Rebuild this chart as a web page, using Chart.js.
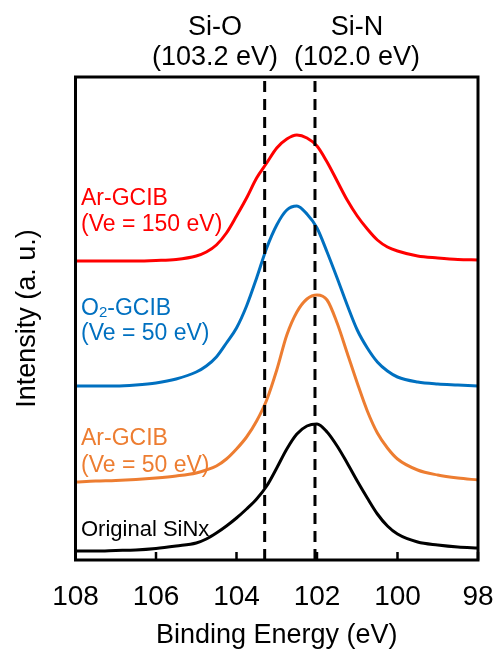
<!DOCTYPE html>
<html>
<head>
<meta charset="utf-8">
<script src="https://cdn.jsdelivr.net/npm/chart.js@4/dist/chart.umd.min.js"></script>
<style>
  html, body { margin: 0; padding: 0; background: #fff; }
  #wrap { width: 496px; height: 654px; position: relative; }
</style>
</head>
<body>
<div id="wrap"><canvas id="xps"></canvas></div>
<script>
// energias (eV) compartidas por las cuatro curvas
const energias = [108, 107.5, 107, 106.5, 106, 105.5, 105, 104.75, 104.5, 104.25, 104, 103.75, 103.5, 103.25,
  103, 102.75, 102.5, 102.25, 102, 101.75, 101.5, 101.25, 101, 100.75, 100.5, 100.25, 100, 99.5, 99, 98.5, 98];

// intensidades (u. a., con el desplazamiento vertical ya incluido)
const arGcib150 = [299, 299, 299, 299, 299.5, 300.5, 304, 308, 315, 327, 344, 362, 382, 397,
  412, 421, 425, 422, 414, 398, 379, 360, 344, 331, 320, 313, 309, 304, 302, 300.5, 300];
const o2Gcib50 = [174, 174, 174, 175, 177, 181, 188, 194, 203, 217, 232, 254, 282, 312,
  335, 350, 354, 346, 332, 308, 282, 255, 230, 212, 198, 189, 183, 178, 176, 175, 174];
const arGcib50 = [78, 79, 79.5, 80.5, 82, 84, 87, 90, 94, 101, 111, 123, 139, 160,
  190, 225, 248, 261, 265, 260, 237, 207, 177, 149, 127, 112, 101, 90, 85, 82, 80];
const originalSiNx = [9, 9, 9.5, 10, 11.5, 14, 17, 21, 27, 34, 42, 51, 61, 74,
  92, 111, 126, 134, 136, 128, 114, 97, 79, 62, 46, 34, 26, 18, 15, 13, 12];

// posiciones de las líneas de referencia
const lineaSiO = 103.3;
const lineaSiN = 102.05;
const yMin = 0;
const yMax = 483;

const xTicks = [108, 106, 104, 102, 100, 98];

function serie(valores) {
  return valores.map((v, i) => ({ x: energias[i], y: v }));
}

function vertical(x) {
  return [{ x: x, y: yMin }, { x: x, y: yMax }];
}

const FUENTE = "'Liberation Sans', Arial, Helvetica, sans-serif";
Chart.defaults.font.family = FUENTE;
Chart.defaults.color = '#000';

const rotulos = {
  id: 'rotulos',
  afterDraw(chart) {
    const { ctx, chartArea: a, scales } = chart;
    ctx.save();

    // marco
    ctx.strokeStyle = '#000';
    ctx.lineWidth = 3;
    ctx.strokeRect(a.left, a.top, a.right - a.left, a.bottom - a.top);

    // marcas hacia dentro en el eje x
    ctx.lineWidth = 2.5;
    xTicks.forEach(v => {
      const px = scales.x.getPixelForValue(v);
      ctx.beginPath();
      ctx.moveTo(px, a.bottom);
      ctx.lineTo(px, a.bottom - 8);
      ctx.stroke();
    });

    // títulos de las líneas
    ctx.fillStyle = '#000';
    ctx.textAlign = 'center';
    ctx.textBaseline = 'alphabetic';
    ctx.font = '27px ' + FUENTE;
    ctx.fillText('Si-O', 215, 35);
    ctx.fillText('(103.2 eV)', 215, 65);
    ctx.fillText('Si-N', 357, 35);
    ctx.fillText('(102.0 eV)', 357, 65);

    // etiquetas de curvas
    ctx.textAlign = 'left';
    ctx.font = '23px ' + FUENTE;
    const x0 = 81;
    ctx.fillStyle = '#FF0000';
    ctx.fillText('Ar-GCIB', x0, 205);
    ctx.fillText('(Ve = 150 eV)', x0, 231);

    ctx.fillStyle = '#0070C0';
    ctx.fillText('O', x0, 315);
    let w = ctx.measureText('O').width;
    ctx.font = '15px ' + FUENTE;
    ctx.fillText('2', x0 + w, 317);
    w += ctx.measureText('2').width;
    ctx.font = '23px ' + FUENTE;
    ctx.fillText('-GCIB', x0 + w, 315);
    ctx.fillText('(Ve = 50 eV)', x0, 340);

    ctx.fillStyle = '#ED7D31';
    ctx.fillText('Ar-GCIB', x0, 445);
    ctx.fillText('(Ve = 50 eV)', x0, 472);

    ctx.fillStyle = '#000';
    ctx.font = '22px ' + FUENTE;
    ctx.fillText('Original SiNx', x0, 536);
    ctx.restore();
  }
};

const linea = (label, datos, color) => ({
  label, data: serie(datos), borderColor: color, borderWidth: 3,
  pointRadius: 0, cubicInterpolationMode: 'monotone', fill: false
});

const guia = (x) => ({
  label: 'ref', data: vertical(x), borderColor: '#000', borderWidth: 3,
  borderDash: [11, 7], pointRadius: 0, fill: false
});

new Chart(document.getElementById('xps'), {
  type: 'line',
  data: {
    datasets: [
      guia(lineaSiO),
      guia(lineaSiN),
      linea('Original SiNx', originalSiNx, '#000000'),
      linea('Ar-GCIB 50 eV', arGcib50, '#ED7D31'),
      linea('O2-GCIB 50 eV', o2Gcib50, '#0070C0'),
      linea('Ar-GCIB 150 eV', arGcib150, '#FF0000')
    ]
  },
  options: {
    responsive: true,
    maintainAspectRatio: false,
    animation: false,
    layout: { padding: { top: 77, right: 18, left: 0, bottom: 0 } },
    plugins: { legend: { display: false }, tooltip: { enabled: false } },
    scales: {
      x: {
        type: 'linear',
        reverse: true,
        min: 98,
        max: 108,
        afterFit: s => { s.height = 94; },
        afterBuildTicks: s => { s.ticks = xTicks.map(v => ({ value: v })); },
        grid: { display: true, drawOnChartArea: false, drawTicks: true, tickLength: 20, color: 'rgba(0,0,0,0)' },
        border: { display: false },
        ticks: { font: { size: 28 }, color: '#000', padding: 0, maxRotation: 0, autoSkip: false },
        title: { display: true, text: 'Binding Energy (eV)', font: { size: 27 }, color: '#000', padding: { top: 0, bottom: 2 } }
      },
      y: {
        min: yMin,
        max: yMax,
        afterFit: s => { s.width = 75.5; },
        grid: { display: false, drawTicks: false },
        border: { display: false },
        ticks: { display: false },
        title: { display: true, text: 'Intensity (a. u.)', font: { size: 27 }, color: '#000', padding: { top: 11, bottom: 0 } }
      }
    }
  },
  plugins: [rotulos]
});
</script>
</body>
</html>
